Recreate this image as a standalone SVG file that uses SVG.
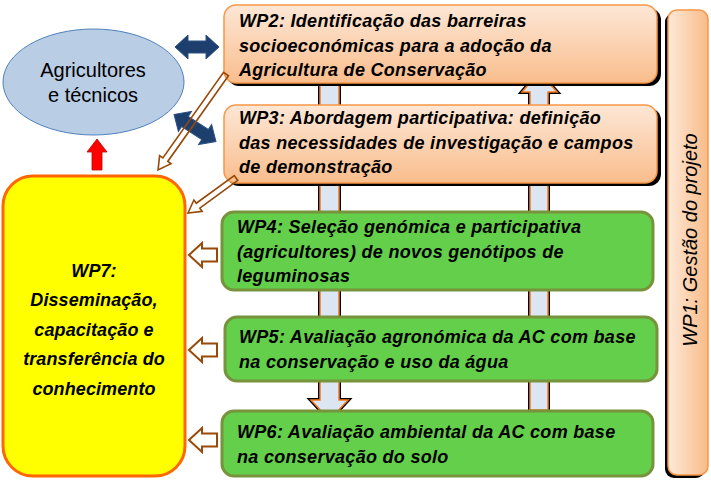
<svg xmlns="http://www.w3.org/2000/svg" width="711" height="483" viewBox="0 0 711 483">
<defs>
<linearGradient id="gOr" x1="0" y1="0" x2="0" y2="1">
<stop offset="0" stop-color="#fde7d6"/>
<stop offset="1" stop-color="#f9bd8c"/>
</linearGradient>
<linearGradient id="gOrH" x1="0" y1="0" x2="1" y2="0">
<stop offset="0" stop-color="#fde9d9"/>
<stop offset="1" stop-color="#f9bb88"/>
</linearGradient>
<style>
.t{font-family:"Liberation Sans",Arial,sans-serif;font-weight:bold;font-style:italic;font-size:18px;letter-spacing:0.3px;fill:#000}
.or{fill:url(#gOr);stroke:#f79646;stroke-width:1.5}
.sh{fill:#000}
.gr{fill:#64cf4a;stroke:#77933c;stroke-width:3}
.br{fill:none;stroke:#984807;stroke-width:1.6;stroke-linejoin:miter}
.brw{fill:#fff;stroke:#984807;stroke-width:2}
.db{fill:#1c3f6e;stroke:#2c5282;stroke-width:1}
.vs{fill:#000;stroke:#000;stroke-width:4;stroke-linejoin:miter}
.va{fill:#dce6f2;stroke:#f47a1f;stroke-width:1.5}
</style>
</defs>
<rect width="711" height="483" fill="#fff"/>

<g id="connectors">
<polygon class="vs" points="320,80 339,80 339,400 348,400 329.5,420 311,400 320,400"/>
<polygon class="va" points="320,80 339,80 339,400 348,400 329.5,420 311,400 320,400"/>
<polygon class="vs" points="530,410 548,410 548,92 557,92 539,72 522,92 530,92"/>
<polygon class="va" points="530,410 548,410 548,92 557,92 539,72 522,92 530,92"/>
</g>

<g id="ellipse">
<ellipse cx="93.5" cy="82" rx="90.5" ry="53" fill="#b9cde5" stroke="#4f81bd" stroke-width="1"/>
<text x="93" y="77" text-anchor="middle" font-family="'Liberation Sans',Arial,sans-serif" font-size="20">Agricultores</text>
<text x="93" y="102" text-anchor="middle" font-family="'Liberation Sans',Arial,sans-serif" font-size="20">e técnicos</text>
</g>

<g id="wp7">
<rect x="3" y="176" width="182" height="300" rx="30" ry="30" fill="#ffff00" stroke="#ff6600" stroke-width="3"/>
<g class="t" text-anchor="middle" style="letter-spacing:0.1px">
<text x="94" y="277">WP7:</text>
<text x="94" y="306">Disseminação,</text>
<text x="94" y="336">capacitação e</text>
<text x="94" y="365">transferência do</text>
<text x="94" y="395">conhecimento</text>
</g>
</g>

<g id="wp2">
<rect class="sh" x="227" y="8" width="434" height="78" rx="12"/>
<rect class="or" x="224" y="5" width="433" height="78" rx="12"/>
<text class="t" x="239" y="27">WP2: Identificação das barreiras</text>
<text class="t" x="239" y="52">socioeconómicas para a adoção da</text>
<text class="t" x="239" y="76">Agricultura de Conservação</text>
</g>

<g id="wp3">
<rect class="sh" x="227" y="108" width="434" height="78" rx="12"/>
<rect class="or" x="224" y="105" width="433" height="78" rx="12"/>
<text class="t" x="239" y="124">WP3: Abordagem participativa: definição</text>
<text class="t" x="239" y="149">das necessidades de investigação e campos</text>
<text class="t" x="239" y="173">de demonstração</text>
</g>

<g id="wp4">
<rect class="gr" x="222" y="212" width="431" height="78" rx="12"/>
<text class="t" x="237" y="233">WP4: Seleção genómica e participativa</text>
<text class="t" x="237" y="258">(agricultores) de novos genótipos de</text>
<text class="t" x="237" y="282">leguminosas</text>
</g>

<g id="wp5">
<rect class="gr" x="225" y="317" width="432" height="64" rx="12"/>
<text class="t" x="239" y="343">WP5: Avaliação agronómica da AC com base</text>
<text class="t" x="239" y="368">na conservação e uso da água</text>
</g>

<g id="wp6">
<rect class="gr" x="222" y="411" width="431" height="65" rx="12"/>
<text class="t" x="237" y="438">WP6: Avaliação ambiental da AC com base</text>
<text class="t" x="237" y="463">na conservação do solo</text>
</g>

<g id="wp1">
<rect class="sh" x="665" y="13" width="40" height="465" rx="9"/>
<rect x="668" y="10" width="40" height="465" rx="9" fill="url(#gOrH)" stroke="#f79646" stroke-width="1.5"/>
<text transform="translate(697,240) rotate(-90)" text-anchor="middle" font-family="'Liberation Sans',Arial,sans-serif" font-style="italic" font-size="20">WP1: Gestão do projeto</text>
</g>

<g id="arrows">
<polygon class="db" points="175,47 188,35 188,41 206,41 206,35 219,47 206,59 206,53 188,53 188,59"/>
<polygon class="db" transform="translate(195,128) rotate(33)" points="-25,0 -12,-12 -12,-6 12,-6 12,-12 25,0 12,12 12,6 -12,6 -12,12"/>
<polygon class="br" transform="translate(226,74) rotate(125.3)" points="0,-3 105,-3 105,-7 117.6,0 105,7 105,3 0,3"/>
<polygon class="br" transform="translate(236,178) rotate(143.9)" points="0,-3 47,-3 47,-7 59.4,0 47,7 47,3 0,3"/>
<polygon class="brw" points="189,255 202,243 202,248.5 217,248.5 217,261.5 202,261.5 202,267"/>
<polygon class="brw" points="189,350 202,338 202,343.5 217,343.5 217,356.5 202,356.5 202,362"/>
<polygon class="brw" points="189,440 202,428 202,433.5 217,433.5 217,446.5 202,446.5 202,452"/>
<polygon points="97,139 107,152 102,152 102,170 92,170 92,152 87,152" fill="#ff0000" stroke="#c00000" stroke-width="0.8"/>
</g>
</svg>
